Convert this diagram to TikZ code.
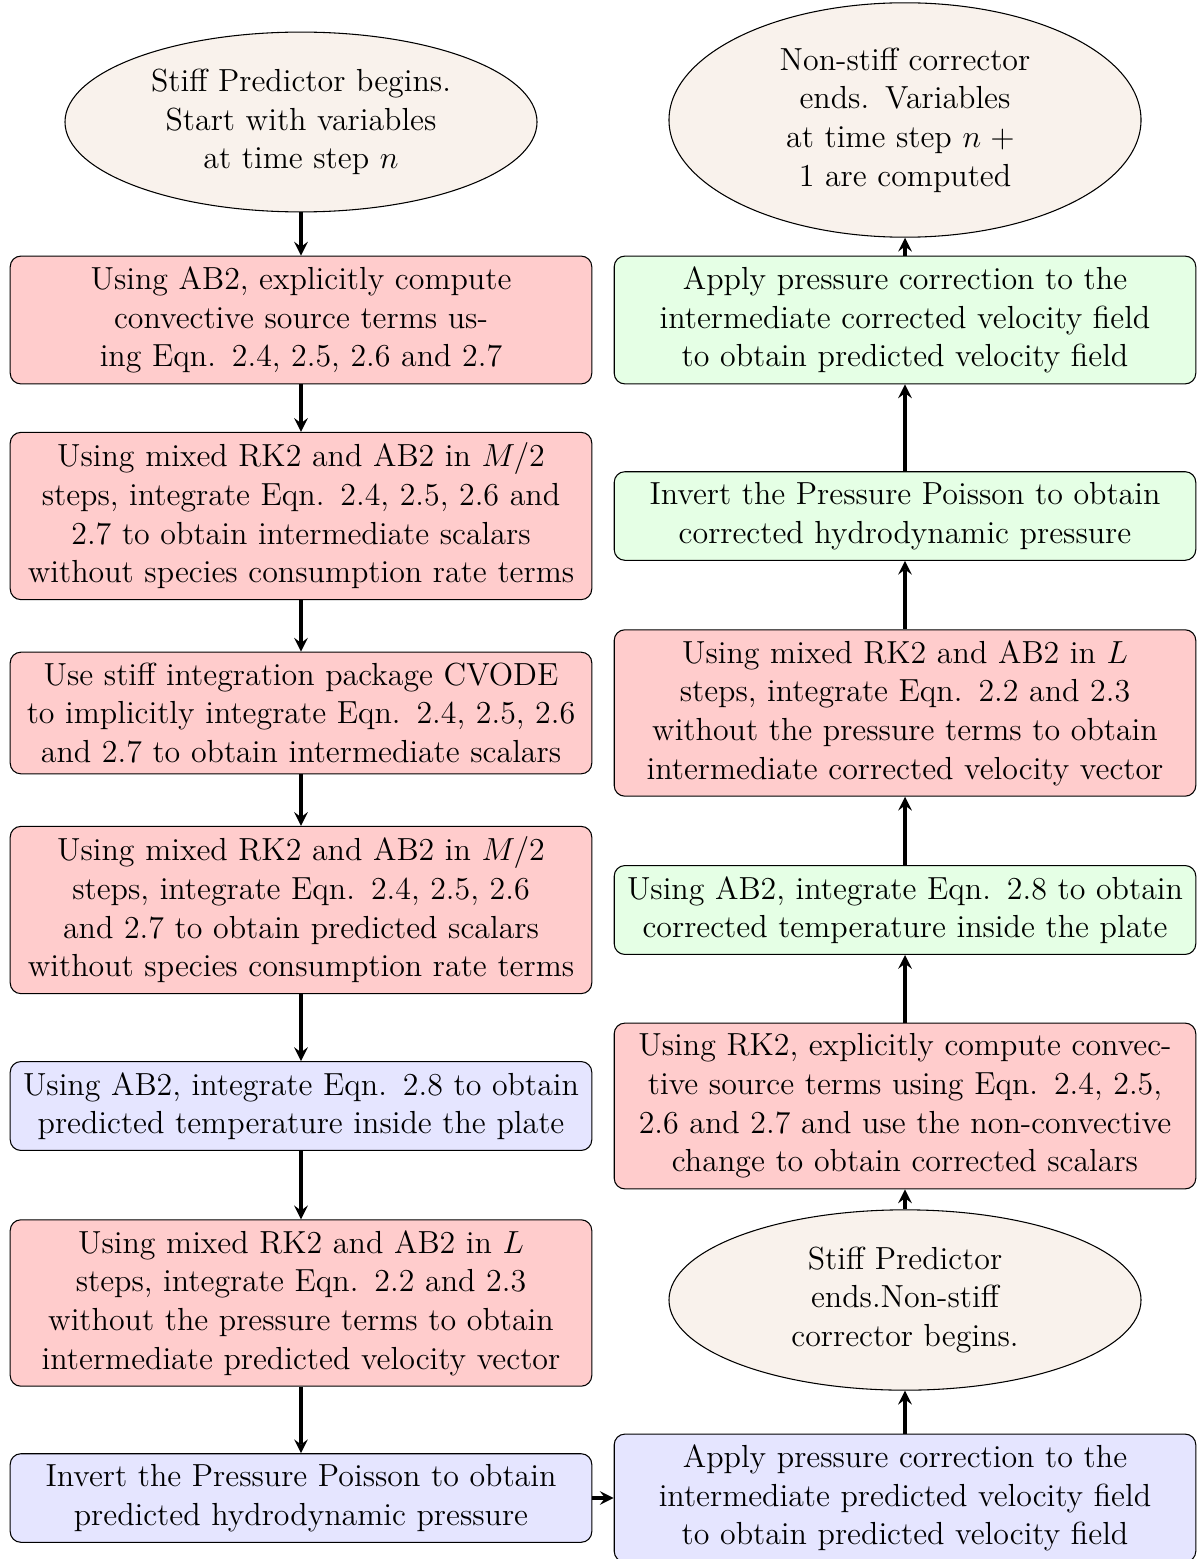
\documentclass[tikz,border=0pt,12pt]{standalone}
\usetikzlibrary{shapes.geometric}
\begin{document}
\begin{tikzpicture}[x=0.3757pt,y=-0.3757pt,
  every node/.style={font=\fontsize{12}{14.5}\selectfont},
  box/.style={draw, rounded corners, align=center, text width=210.5pt},
  redbox/.style={box, fill=red!20},
  greenbox/.style={box, fill=green!10},
  bluebox/.style={box, fill=blue!10},
  oval/.style={draw, ellipse, fill=brown!10, align=center, text width=117.4pt},
  arr/.style={line width=1.25pt, -stealth}]
\useasboundingbox (0,0) rectangle (1198,1559);
% left column
\node[oval] (s) at (301,122) {Stiff Predictor begins.\\Start with variables\\at time step $n$};
\node[redbox] (l1) at (301,320) {Using AB2, explicitly compute\\convective source terms us-\\ing Eqn. 2.4, 2.5, 2.6 and 2.7};
\node[redbox] (l2) at (301,516) {Using mixed RK2 and AB2 in $M/2$\\steps, integrate Eqn. 2.4, 2.5, 2.6 and\\2.7 to obtain intermediate scalars\\without species consumption rate terms};
\node[redbox] (l3) at (301,713) {Use stiff integration package CVODE\\to implicitly integrate Eqn. 2.4, 2.5, 2.6\\and 2.7 to obtain intermediate scalars};
\node[redbox] (l4) at (301,910) {Using mixed RK2 and AB2 in $M/2$\\steps, integrate Eqn. 2.4, 2.5, 2.6\\and 2.7 to obtain predicted scalars\\without species consumption rate terms};
\node[bluebox] (l5) at (301,1106) {Using AB2, integrate Eqn. 2.8 to obtain\\predicted temperature inside the plate};
\node[redbox] (l6) at (301,1303) {Using mixed RK2 and AB2 in $L$\\steps, integrate Eqn. 2.2 and 2.3\\without the pressure terms to obtain\\intermediate predicted velocity vector};
\node[bluebox] (l7) at (301,1498) {Invert the Pressure Poisson to obtain\\predicted hydrodynamic pressure};
% right column
\node[bluebox] (r1) at (905,1498) {Apply pressure correction to the\\intermediate predicted velocity field\\to obtain predicted velocity field};
\node[oval] (r2) at (905,1300) {Stiff Predictor\\ends.Non-stiff\\corrector begins.};
\node[redbox] (r3) at (905,1106) {Using RK2, explicitly compute convec-\\tive source terms using Eqn. 2.4, 2.5,\\2.6 and 2.7 and use the non-convective\\change to obtain corrected scalars};
\node[greenbox] (r4) at (905,910) {Using AB2, integrate Eqn. 2.8 to obtain\\corrected temperature inside the plate};
\node[redbox] (r5) at (905,713) {Using mixed RK2 and AB2 in $L$\\steps, integrate Eqn. 2.2 and 2.3\\without the pressure terms to obtain\\intermediate corrected velocity vector};
\node[greenbox] (r6) at (905,516) {Invert the Pressure Poisson to obtain\\corrected hydrodynamic pressure};
\node[greenbox] (r7) at (905,320) {Apply pressure correction to the\\intermediate corrected velocity field\\to obtain predicted velocity field};
\node[oval] (e) at (905,120) {Non-stiff corrector\\ends. Variables\\at time step $n+{}$\\1 are computed};
% connectors
\draw[arr] (s) -- (l1);
\draw[arr] (l1) -- (l2);
\draw[arr] (l2) -- (l3);
\draw[arr] (l3) -- (l4);
\draw[arr] (l4) -- (l5);
\draw[arr] (l5) -- (l6);
\draw[arr] (l6) -- (l7);
\draw[arr] (l7) -- (r1);
\draw[arr] (r1) -- (r2);
\draw[arr] (r2) -- (r3);
\draw[arr] (r3) -- (r4);
\draw[arr] (r4) -- (r5);
\draw[arr] (r5) -- (r6);
\draw[arr] (r6) -- (r7);
\draw[arr] (r7) -- (e);
\end{tikzpicture}
\end{document}
